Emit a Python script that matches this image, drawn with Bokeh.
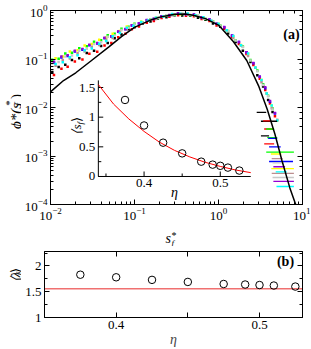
import math
from bokeh.plotting import figure
from bokeh.layouts import column, row
from bokeh.models import (Range1d, LinearScale, LogAxis, LinearAxis, Label, FixedTicker,
                          LogTicker, CustomJSTickFormatter)
from bokeh.embed import file_html
from bokeh.resources import INLINE
from bokeh.core.properties import value

FONT = "Liberation Serif"

# ---------------- data ----------------
# scaling curve of panel (a)
curve_s = [0.01, 0.0143, 0.02, 0.03, 0.05, 0.07, 0.1, 0.15, 0.2, 0.3, 0.4, 0.5, 0.7,
           1.0, 1.5, 2.17, 3.0, 3.81, 4.7, 5.7, 7.07, 8.3]
curve_phi = [0.021, 0.036, 0.052, 0.09, 0.18, 0.29, 0.45, 0.62, 0.73, 0.84, 0.85, 0.8, 0.68,
             0.5, 0.23, 0.093, 0.028, 0.0091, 0.0028, 0.0008, 0.00022, 0.0001]

# three sampling grids of s_f^* used by the nine data sets
grid_a = [0.0105, 0.0125, 0.015, 0.018, 0.022, 0.027, 0.033, 0.040, 0.048, 0.058, 0.070, 0.085,
          0.10, 0.125, 0.155, 0.19, 0.24, 0.30, 0.37, 0.46, 0.57, 0.70, 0.86, 1.05, 1.3, 1.6,
          1.95, 2.4, 2.9, 3.4, 3.9, 4.4]
grid_b = [0.011, 0.0135, 0.016, 0.0195, 0.024, 0.029, 0.036, 0.044, 0.053, 0.064, 0.078, 0.093,
          0.113, 0.14, 0.17, 0.21, 0.26, 0.33, 0.41, 0.51, 0.63, 0.78, 0.95, 1.17, 1.45, 1.75,
          2.15, 2.6, 3.1, 3.6, 4.1, 4.7]
grid_c = [0.0115, 0.014, 0.017, 0.021, 0.0255, 0.031, 0.038, 0.046, 0.055, 0.067, 0.081, 0.097,
          0.12, 0.145, 0.18, 0.22, 0.28, 0.35, 0.43, 0.53, 0.66, 0.82, 1.0, 1.25, 1.5, 1.85,
          2.25, 2.75, 3.25, 3.75, 4.3, 5.0]

phi_black = [0.054, 0.068, 0.076, 0.095, 0.104, 0.133, 0.148, 0.186, 0.214, 0.268, 0.32, 0.41,
             0.45, 0.54, 0.59, 0.68, 0.73, 0.80, 0.79, 0.785, 0.71, 0.645, 0.54, 0.465, 0.335,
             0.225, 0.148, 0.087, 0.046, 0.027, 0.0142, 0.0081]
phi_red = [0.047, 0.063, 0.069, 0.089, 0.098, 0.128, 0.141, 0.19, 0.214, 0.28, 0.33, 0.41, 0.47,
           0.56, 0.61, 0.70, 0.74, 0.80, 0.78, 0.76, 0.67, 0.61, 0.49, 0.42, 0.285, 0.205, 0.127,
           0.075, 0.039, 0.023, 0.0121, 0.0066]
phi_green = [0.096, 0.101, 0.130, 0.135, 0.167, 0.183, 0.228, 0.243, 0.31, 0.33, 0.42, 0.46, 0.53,
             0.57, 0.66, 0.70, 0.79, 0.82, 0.85, 0.80, 0.77, 0.67, 0.60, 0.49, 0.38, 0.245, 0.18,
             0.095, 0.058, 0.030, 0.0175, 0.0095]
phi_blue = [0.084, 0.107, 0.115, 0.143, 0.156, 0.193, 0.208, 0.268, 0.29, 0.365, 0.41, 0.49, 0.54,
            0.63, 0.67, 0.76, 0.80, 0.87, 0.84, 0.82, 0.72, 0.65, 0.53, 0.45, 0.305, 0.225, 0.137,
            0.082, 0.043, 0.025, 0.0131, 0.0075]
phi_yellow = [0.104, 0.113, 0.143, 0.152, 0.19, 0.203, 0.248, 0.276, 0.33, 0.38, 0.47, 0.50, 0.59,
              0.62, 0.71, 0.75, 0.83, 0.84, 0.85, 0.78, 0.72, 0.61, 0.53, 0.39, 0.295, 0.195,
              0.128, 0.066, 0.037, 0.0195, 0.011, 0.0054]
phi_brown = [0.073, 0.095, 0.103, 0.131, 0.143, 0.178, 0.194, 0.252, 0.272, 0.36, 0.41, 0.49, 0.54,
             0.62, 0.67, 0.75, 0.80, 0.85, 0.82, 0.79, 0.68, 0.61, 0.49, 0.39, 0.27, 0.19, 0.115,
             0.066, 0.033, 0.0195, 0.0097, 0.0056]
phi_grey = [0.082, 0.087, 0.112, 0.118, 0.148, 0.163, 0.205, 0.222, 0.288, 0.305, 0.395, 0.44,
            0.515, 0.565, 0.655, 0.705, 0.795, 0.835, 0.865, 0.815, 0.775, 0.675, 0.595, 0.485,
            0.375, 0.24, 0.176, 0.093, 0.056, 0.029, 0.017, 0.0091]
phi_violet = [0.088, 0.112, 0.119, 0.148, 0.16, 0.197, 0.213, 0.274, 0.296, 0.37, 0.415, 0.495,
              0.545, 0.635, 0.675, 0.765, 0.805, 0.875, 0.85, 0.825, 0.725, 0.655, 0.535, 0.455,
              0.305, 0.225, 0.138, 0.083, 0.043, 0.026, 0.0136, 0.0077]
phi_cyan = [0.079, 0.086, 0.109, 0.119, 0.151, 0.164, 0.207, 0.236, 0.294, 0.345, 0.44, 0.485,
            0.58, 0.62, 0.71, 0.755, 0.845, 0.855, 0.865, 0.795, 0.725, 0.615, 0.535, 0.39, 0.298,
            0.192, 0.13, 0.067, 0.037, 0.0195, 0.011, 0.0054]

series = [
    ("#000000", grid_a, phi_black),
    ("#ff0000", grid_b, phi_red),
    ("#00ff00", grid_a, phi_green),
    ("#0000ff", grid_b, phi_blue),
    ("#ffff00", grid_c, phi_yellow),
    ("#bc8f8f", grid_c, phi_brown),
    ("#c8c8c8", grid_a, phi_grey),
    ("#9400d3", grid_b, phi_violet),
    ("#00ffff", grid_c, phi_cyan),
]

# quantised tail rows (level, s from, s to, data set index)
row_level = [0.0079, 0.0052, 0.0026, 0.0053, 0.0036, 0.00178, 0.0036, 0.0024, 0.0012,
             0.0023, 0.00154, 0.00077, 0.0011, 0.00055, 0.00088, 0.00044, 0.00072, 0.00036,
             0.0006, 0.0003, 0.00047, 0.000235]
row_s0 = [2.85, 3.2, 3.2, 3.4, 3.5, 3.5, 3.7, 3.8, 3.7, 3.9, 4.0, 4.0, 4.2, 4.25, 4.3, 4.3,
          4.4, 4.4, 4.5, 4.5, 4.8, 4.9]
row_s1 = [3.7, 5.0, 4.0, 4.2, 4.5, 4.6, 4.6, 5.0, 7.9, 5.0, 5.5, 7.7, 5.6, 7.9, 5.8, 7.9,
          6.0, 7.9, 6.2, 7.9, 6.5, 7.9]
row_set = [0, 0, 0, 1, 1, 1, 2, 2, 2, 3, 3, 3, 4, 4, 5, 5, 6, 6, 7, 7, 8, 8]

# inset and panel (b)
eta = [0.375, 0.4, 0.425, 0.45, 0.475, 0.49, 0.5, 0.51, 0.525]
s_mean = [1.29, 0.86, 0.57, 0.39, 0.25, 0.2, 0.18, 0.15, 0.1]
fit_eta = [0.34, 0.36, 0.38, 0.40, 0.42, 0.44, 0.46, 0.48, 0.50, 0.52, 0.54]
fit_s = [1.55, 1.22, 0.97, 0.76, 0.58, 0.44, 0.33, 0.24, 0.17, 0.11, 0.065]
lam_mean = [1.83, 1.78, 1.73, 1.69, 1.65, 1.64, 1.63, 1.62, 1.60]
lam_line = 1.56

inset_xticks = [0.35, 0.4, 0.45, 0.5]
inset_xlabels = ["0.4", "0.5"]
inset_xlabel_pos = [0.4, 0.5]
inset_yticks = [0.0, 0.25, 0.5, 0.75, 1.0, 1.25, 1.5]
inset_ylabels = ["0", "0.5", "1", "1.5"]
inset_ylabel_pos = [0.0, 0.5, 1.0, 1.5]

# ---------------- layout constants (page pixels; the page has no margin) ----------------
SW = 21                 # width of the strips holding the y titles
PW = 289                # width of the two plots
H1, HX, H2 = 226, 20, 103
FL = 44                 # frame left (page)
FB1 = 204               # frame bottom of panel (a) (page)
FB2 = 320               # frame bottom of panel (b) (page)
BLANK = CustomJSTickFormatter(code="return ''")
R = math.pi / 2


def add_label(fig, FB, text, X, Y, size, style="normal", angle=0.0, align="left",
              baseline="alphabetic"):
    # screen units of a Label are measured from the frame's bottom-left corner
    fig.add_layout(Label(x=X - FL, y=FB - Y, x_units="screen", y_units="screen",
                         text=text, angle=angle, text_font=FONT, text_font_size=f"{size}px",
                         text_font_style=style, text_align=align, text_baseline=baseline,
                         text_color="black"))


def strip(w, h):
    f = figure(width=w, height=h, x_range=Range1d(0, w), y_range=Range1d(0, h),
               output_backend="svg", toolbar_location=None, min_border=0,
               x_axis_location=None, y_axis_location=None)
    f.grid.visible = False
    f.outline_line_color = None
    return f


def strip_label(fig, y0, h, text, X, Y, size, style="normal", angle=0.0, align="left"):
    # (X, Y) are page pixels; the strip starts at page y0 and is h tall
    fig.add_layout(Label(x=X, y=h - (Y - y0), text=text, angle=angle, text_font=FONT,
                         text_font_size=f"{size}px", text_font_style=style,
                         text_align=align, text_baseline="alphabetic", text_color="black"))


def style_axis(ax, size="13px"):
    ax.major_tick_in = 5
    ax.major_tick_out = 0
    ax.minor_tick_in = 3
    ax.minor_tick_out = 0
    ax.axis_line_color = "black"
    ax.major_tick_line_color = "black"
    ax.minor_tick_line_color = "black"
    ax.major_label_text_font = FONT
    ax.major_label_text_font_size = size
    ax.major_label_text_color = "black"
    ax.major_label_standoff = 3


# ---------------- panel (a) ----------------
p = figure(width=PW, height=H1, x_axis_type="log", y_axis_type="log",
           x_range=(0.01, 10), y_range=(1e-4, 1),
           output_backend="svg", toolbar_location=None,
           min_border_left=FL - SW, min_border_right=SW + PW - 302, min_border_top=10,
           min_border_bottom=H1 - FB1)
p.grid.visible = False
p.outline_line_color = "black"
p.outline_line_alpha = 1
for ax in p.axis:
    style_axis(ax)

top_ax = LogAxis(ticker=LogTicker(), formatter=BLANK)
right_ax = LogAxis(ticker=LogTicker(), formatter=BLANK)
for ax in (top_ax, right_ax):
    style_axis(ax)
    ax.major_label_standoff = 0
p.add_layout(top_ax, "above")
p.add_layout(right_ax, "right")

for color, g, vals in series:
    p.scatter(g, vals, marker="square", size=2.5, color=color, line_width=0)

for lev, a, b, k in zip(row_level, row_s0, row_s1, row_set):
    p.segment(x0=[a], y0=[lev], x1=[b], y1=[lev], line_color=series[k][0], line_width=1.3)

p.line(curve_s, curve_phi, line_color="black", line_width=1.5)

# inset drawn in the same frame on its own linear scales
IX_PX = 780.0    # px per unit of eta in the inset
IY_PX = 59.33    # px per unit of <s_f> in the inset
p.extra_x_ranges = {"ix": Range1d(0.2772, 0.6079)}
p.extra_y_ranges = {"iy": Range1d(-0.472, 2.798)}
p.extra_x_scales = {"ix": LinearScale()}
p.extra_y_scales = {"iy": LinearScale()}
ik = dict(x_range_name="ix", y_range_name="iy")

x_lo, x_hi, y_top = 0.34, 0.54, 1.62
p.segment(x0=[x_lo], y0=[0], x1=[x_hi], y1=[0], line_color="black", line_width=1, **ik)
p.segment(x0=[x_lo], y0=[0], x1=[x_lo], y1=[y_top], line_color="black", line_width=1, **ik)
xt_len = [(5 if t in inset_xlabel_pos else 3) / IY_PX for t in inset_xticks]
p.segment(x0=inset_xticks, y0=[0] * len(inset_xticks), x1=inset_xticks, y1=xt_len,
          line_color="black", line_width=1, **ik)
yt_len = [x_lo + (5 if t in inset_ylabel_pos else 3) / IX_PX for t in inset_yticks]
p.segment(x0=[x_lo] * len(inset_yticks), y0=inset_yticks, x1=yt_len, y1=inset_yticks,
          line_color="black", line_width=1, **ik)
p.text(x=inset_xlabel_pos, y=[0] * 2, text=inset_xlabels, y_offset=3,
       text_font=value(FONT), text_font_size=value("13px"), text_align=value("center"),
       text_baseline=value("top"), text_color="black", **ik)
p.text(x=[x_lo] * 4, y=inset_ylabel_pos, text=inset_ylabels, x_offset=-3,
       text_font=value(FONT), text_font_size=value("13px"), text_align=value("right"),
       text_baseline=value("middle"), text_color="black", **ik)
p.line(fit_eta, fit_s, line_color="red", line_width=1, **ik)
p.scatter(eta, s_mean, marker="circle", size=7.5, fill_color=None, line_color="black",
          line_width=1, **ik)

# texts inside the frame of panel (a)
add_label(p, FB1, "(a)", 285, 34, 14, "bold", align="center")
add_label(p, FB1, "η", 168, 192, 14, "italic", align="center")
add_label(p, FB1, "⟨s", 70, 134, 13, "italic", angle=R)
add_label(p, FB1, "f", 73, 124, 9, "italic", angle=R)
add_label(p, FB1, "⟩", 70, 121, 13, angle=R)

# y title of panel (a)
ya = strip(SW, H1)
strip_label(ya, 0, H1, "ϕ*(s", 15, 138, 15, "italic", angle=R)
strip_label(ya, 0, H1, "f", 18, 111, 10, "italic", angle=R)
strip_label(ya, 0, H1, "*", 8, 111, 11, angle=R)
strip_label(ya, 0, H1, ")", 15, 103, 15, angle=R)

# x title of panel (a)
xa = strip(SW + PW, HX)
strip_label(xa, H1, HX, "s", 165, 238, 14, "italic")
strip_label(xa, H1, HX, "*", 171, 235, 10)
strip_label(xa, H1, HX, "f", 171, 242, 9, "italic")

# ---------------- panel (b) ----------------
q = figure(width=PW, height=H2, x_range=(0.35, 0.53), y_range=(1.0, 2.28),
           output_backend="svg", toolbar_location=None,
           min_border_left=FL - SW, min_border_right=SW + PW - 302, min_border_top=5,
           min_border_bottom=H1 + HX + H2 - FB2)
q.grid.visible = False
q.outline_line_color = "black"
q.outline_line_alpha = 1
for ax in q.axis:
    style_axis(ax)
q.xaxis.ticker = FixedTicker(ticks=[0.4, 0.45, 0.5])
q.xaxis.major_label_overrides = {0.45: ""}
q.xaxis.axis_label = "η"
q.xaxis.axis_label_text_font = FONT
q.xaxis.axis_label_text_font_style = "italic"
q.xaxis.axis_label_text_font_size = "14px"
q.xaxis.axis_label_standoff = 0
q.yaxis.ticker = FixedTicker(ticks=[1.0, 1.5, 2.0], minor_ticks=[1.25, 1.75, 2.25])
q.yaxis.major_label_overrides = {1.0: "1", 1.5: "1.5", 2.0: "2"}
qt = LinearAxis(ticker=FixedTicker(ticks=[0.4, 0.45, 0.5]), formatter=BLANK)
qr = LinearAxis(ticker=FixedTicker(ticks=[1.0, 1.5, 2.0], minor_ticks=[1.25, 1.75, 2.25]),
                formatter=BLANK)
for ax in (qt, qr):
    style_axis(ax)
    ax.major_label_standoff = 0
q.add_layout(qt, "above")
q.add_layout(qr, "right")

q.line([0.35, 0.53], [lam_line, lam_line], line_color="#f07070", line_width=1.5)
q.scatter(eta, lam_mean, marker="circle", size=7.5, fill_color=None, line_color="black",
          line_width=1)
add_label(q, FB2, "(b)", 285, 264, 14, "bold", align="center")

# y title of panel (b)
yb = strip(SW, H2)
Y0 = H1 + HX
strip_label(yb, Y0, H2, "⟨λ", 15, 294, 13, "italic", angle=R)
strip_label(yb, Y0, H2, "f", 18, 283, 9, "italic", angle=R)
strip_label(yb, Y0, H2, "⟩", 15, 280, 13, angle=R)

layout = column(row(ya, p, spacing=0), xa, row(yb, q, spacing=0), spacing=0)
open("out.html", "w").write(file_html(layout, INLINE))
